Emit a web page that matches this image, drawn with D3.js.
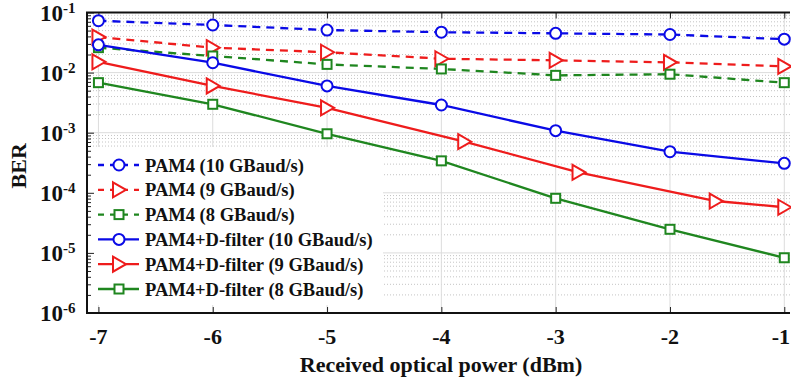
<!DOCTYPE html>
<html>
<head>
<meta charset="utf-8">
<script src="https://cdn.jsdelivr.net/npm/d3@7"></script>
<style>
  html, body { margin: 0; padding: 0; background: #fff; }
  svg { display: block; }
  text { font-family: "Liberation Serif", "Times New Roman", serif; font-weight: bold; fill: #111; }
</style>
</head>
<body>
<svg id="chart" width="791" height="380"></svg>
<script>
// Received optical power (dBm)
const power = [-7, -6, -5, -4, -3, -2, -1];
// D-filter 9 GBaud/s was measured at slightly shifted power levels
const powerDf9 = [-7, -6, -5, -3.8, -2.8, -1.6, -1];

// BER per series
const berPam4_10 = [0.073, 0.062, 0.051, 0.047, 0.045, 0.043, 0.036];
const berPam4_9  = [0.039, 0.026, 0.0218, 0.017, 0.016, 0.0148, 0.0127];
const berPam4_8  = [0.026, 0.0189, 0.0137, 0.0115, 0.0090, 0.0094, 0.0068];
const berDf_10   = [0.029, 0.0146, 0.0060, 0.00289, 0.00108, 4.83e-4, 3.09e-4];
const berDf_9    = [0.0151, 0.0060, 0.0026, 7.1e-4, 2.19e-4, 7.3e-5, 5.75e-5];
const berDf_8    = [0.0068, 0.00297, 9.6e-4, 3.4e-4, 8.1e-5, 2.47e-5, 8.3e-6];

const seriesNames = [
  "PAM4 (10 GBaud/s)", "PAM4 (9 GBaud/s)", "PAM4 (8 GBaud/s)",
  "PAM4+D-filter (10 GBaud/s)", "PAM4+D-filter (9 GBaud/s)", "PAM4+D-filter (8 GBaud/s)"
];
const xTicks = [-7, -6, -5, -4, -3, -2, -1];
const yDecades = [-1, -2, -3, -4, -5, -6];

const BLUE = "#0a0ae6", RED = "#ee1c1c", GREEN = "#1f861f";
const series = [
  { name: seriesNames[0], x: power,    y: berPam4_10, color: BLUE,  dash: true,  marker: "circle" },
  { name: seriesNames[1], x: power,    y: berPam4_9,  color: RED,   dash: true,  marker: "triangle" },
  { name: seriesNames[2], x: power,    y: berPam4_8,  color: GREEN, dash: true,  marker: "square" },
  { name: seriesNames[3], x: power,    y: berDf_10,   color: BLUE,  dash: false, marker: "circle" },
  { name: seriesNames[4], x: powerDf9, y: berDf_9,    color: RED,   dash: false, marker: "triangle" },
  { name: seriesNames[5], x: power,    y: berDf_8,    color: GREEN, dash: false, marker: "square" }
];

const svg = d3.select("#chart");
const L = 87, R = 790, T = 12.5, B = 313;

const x = d3.scaleLinear().domain([-7.1, -0.95]).range([L, R]);
const y = d3.scaleLog().domain([1e-6, 1e-1]).range([B, T]);

// grid
const grid = svg.append("g");
const minors = [];
for (let e = -6; e < -1; e++) for (let m = 2; m <= 9; m++) minors.push(m * Math.pow(10, e));
grid.selectAll("line.minor").data(minors).join("line")
  .attr("x1", L).attr("x2", R).attr("y1", d => y(d)).attr("y2", d => y(d))
  .attr("stroke", "#c4c4c4").attr("stroke-width", 1).attr("stroke-dasharray", "1,2");
grid.selectAll("line.majy").data(yDecades.slice(1, 5)).join("line")
  .attr("x1", L).attr("x2", R).attr("y1", d => y(Math.pow(10, d))).attr("y2", d => y(Math.pow(10, d)))
  .attr("stroke", "#dcdcdc").attr("stroke-width", 1);
grid.selectAll("line.majx").data(xTicks).join("line")
  .attr("x1", d => x(d)).attr("x2", d => x(d)).attr("y1", T).attr("y2", B)
  .attr("stroke", "#dcdcdc").attr("stroke-width", 1);

// legend background
svg.append("rect").attr("x", L + 1).attr("y", 147).attr("width", 295).attr("height", 158).attr("fill", "#fff");

// axes
const axisG = svg.append("g");
const xAxis = d3.axisBottom(x).tickValues(xTicks).tickSize(-6).tickFormat("");
axisG.append("g").attr("transform", `translate(0,${B})`).call(xAxis);
axisG.append("g").attr("transform", `translate(0,${T})`).call(d3.axisTop(x).tickValues(xTicks).tickSize(-6).tickFormat(""));
axisG.append("g").attr("transform", `translate(${L},0)`)
  .call(d3.axisLeft(y).tickValues(yDecades.map(d => Math.pow(10, d))).tickSize(-7).tickFormat(""));
axisG.append("g").attr("transform", `translate(${L},0)`)
  .call(d3.axisLeft(y).tickValues(minors).tickSize(-4).tickFormat(""));
axisG.selectAll(".domain").remove();
axisG.selectAll("line").attr("stroke", "#222").attr("stroke-width", 1);

// frame
svg.append("path")
  .attr("d", `M${R},${T}H${L}V${B}H${R}`)
  .attr("fill", "none").attr("stroke", "#111").attr("stroke-width", 2);

// x tick labels (last one kept inside the canvas)
const lastTick = xTicks[xTicks.length - 1];
svg.append("g").selectAll("text").data(xTicks).join("text")
  .attr("x", d => d === lastTick ? 790 : x(d)).attr("y", 344)
  .attr("text-anchor", d => d === lastTick ? "end" : "middle")
  .style("font-size", "22px").text(d => d3.format("d")(d).replace("−", "-"));

// y tick labels: 10^e
const yl = svg.append("g").selectAll("text").data(yDecades).join("text")
  .attr("x", 40).attr("y", d => y(Math.pow(10, d)) + 8).style("font-size", "23px");
yl.append("tspan").text("10");
yl.append("tspan").attr("dy", -8).style("font-size", "15px").text(d => "-" + Math.abs(d));

// axis titles
svg.append("text").attr("x", 441).attr("y", 372).attr("text-anchor", "middle")
  .style("font-size", "22px").text("Received optical power (dBm)");
svg.append("text").attr("transform", `translate(26,${(T + B) / 2 + 3}) rotate(-90)`)
  .attr("text-anchor", "middle").style("font-size", "22px").text("BER");

// markers
function drawMarker(g, type, color) {
  if (type === "circle") {
    g.append("circle").attr("r", 5.5);
  } else if (type === "triangle") {
    g.append("path").attr("d", "M-6,-7.5L7,0L-6,7.5Z");
  } else {
    g.append("rect").attr("x", -4.5).attr("y", -4.5).attr("width", 9).attr("height", 9);
  }
  g.selectAll("*").attr("fill", "#fff").attr("stroke", color).attr("stroke-width", 2);
}

const line = d3.line().x(d => x(d[0])).y(d => y(d[1]));
const plot = svg.append("g");
series.forEach(s => {
  const pts = s.x.map((v, i) => [v, s.y[i]]);
  plot.append("path").datum(pts).attr("d", line)
    .attr("fill", "none").attr("stroke", s.color).attr("stroke-width", 2.3)
    .attr("stroke-dasharray", s.dash ? "8,6" : null);
  pts.forEach(p => {
    const g = plot.append("g").attr("transform", `translate(${x(p[0])},${y(p[1])})`);
    drawMarker(g, s.marker, s.color);
  });
});

// legend
const leg = svg.append("g");
series.forEach((s, i) => {
  const cy = 165 + i * 24.8;
  const g = leg.append("g").attr("transform", `translate(0,${cy})`);
  g.append("line").attr("x1", 98).attr("x2", 139).attr("y1", 0).attr("y2", 0)
    .attr("stroke", s.color).attr("stroke-width", 2.3)
    .attr("stroke-dasharray", s.dash ? "6,6" : null);
  const m = g.append("g").attr("transform", "translate(119,0)");
  drawMarker(m, s.marker, s.color);
  g.append("text").attr("x", 145).attr("y", 6.5).style("font-size", "18.5px").text(s.name);
});
</script>
</body>
</html>
